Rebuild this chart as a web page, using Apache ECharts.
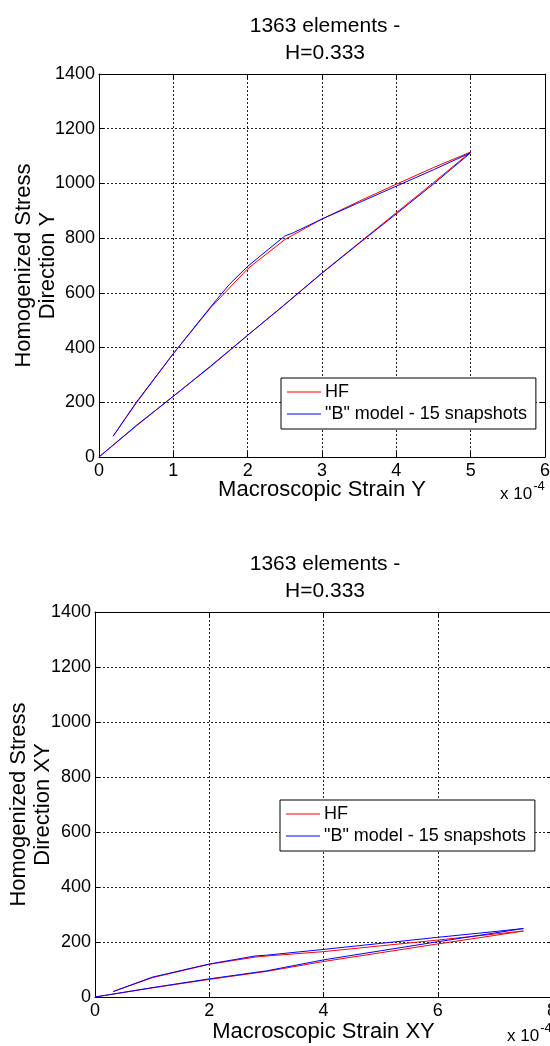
<!DOCTYPE html>
<html>
<head>
<meta charset="utf-8">
<script src="https://cdn.jsdelivr.net/npm/echarts@6/dist/echarts.min.js"></script>
<style>
  html, body { margin: 0; padding: 0; background: #fff; }
  #chart { width: 550px; height: 1046px; }
</style>
</head>
<body>
<div id="chart"></div>
<script>
// Titles and labels
const titleText = '1363 elements -\nH=0.333';
const seriesNames = ['HF', '"B" model - 15 snapshots'];
const xNames = ['Macroscopic Strain Y', 'Macroscopic Strain XY'];
const yNames = ['Homogenized Stress\nDirection Y', 'Homogenized Stress\nDirection XY'];

// Axis ranges (strain in units of 1e-4)
const xMaxY = 6, xStepY = 1;
const xMaxXY = 8, xStepXY = 2;
const yMax = 1400, yStep = 200;

// Direction Y: loading then unloading path
const strainY_HF   = [0, 0.5, 1, 1.5, 2, 2.5, 3, 3.5, 4, 4.5, 5, 4.5, 4, 3.5, 3, 2.5, 2, 1.5, 1, 0.5, 0.19];
const stressY_HF   = [0, 113, 222, 330, 445, 558, 673, 783, 893, 1003, 1115, 1058, 997, 935, 870, 795, 688, 545, 378, 200, 76];
const strainY_B    = [0, 0.5, 1, 1.5, 2, 2.5, 3, 3.5, 4, 4.5, 5, 4.5, 4, 3.5, 3, 2.6, 2.5, 2, 1.75, 1.5, 1, 0.5, 0.19];
const stressY_B    = [0, 115, 222, 332, 445, 557, 672, 781, 889, 998, 1112, 1050, 990, 930, 870, 818, 808, 697, 630, 548, 378, 197, 76];

// Direction XY: loading then unloading path
const strainXY_HF  = [0, 1, 2, 3, 4, 5, 6, 7, 7.5, 7, 6, 5, 4, 3, 2.8, 2, 1, 0.32];
const stressXY_HF  = [0, 33, 64, 93, 129, 161, 193, 224, 240, 229, 207, 186, 165, 149, 145, 119, 70, 20];
const strainXY_B   = [0, 1, 2, 3, 4, 5, 6, 7, 7.5, 7, 6, 5, 4, 3, 2.8, 2, 1, 0.32];
const stressXY_B   = [0, 34, 66, 95, 135, 168, 201, 233, 249, 238, 217, 195, 173, 152, 149, 120, 72, 20];

const zip = (xs, ys) => xs.map((x, i) => [x, ys[i]]);

const FONT = '"Liberation Sans", Arial, sans-serif';
const RED = '#ff0000', BLUE = '#0000ff';
const plain = v => String(v);

const grids = [
  { left: 99, top: 74, width: 446, height: 383 },
  { left: 95, top: 612, width: 457, height: 385 }
];

function mainX(gi, max, step, name, gap) {
  return {
    type: 'value', gridIndex: gi, min: 0, max: max, interval: step, position: 'bottom',
    name: name, nameLocation: 'middle', nameGap: gap, nameMoveOverlap: false,
    nameTextStyle: { fontFamily: FONT, fontSize: 22, color: '#000' },
    axisLine: { show: true, onZero: false, lineStyle: { color: '#000', width: 1 } },
    axisTick: { show: true, inside: true, length: 5, lineStyle: { color: '#000' } },
    axisLabel: { show: true, fontFamily: FONT, fontSize: 18, color: '#000', margin: 5, formatter: plain },
    splitLine: { show: true, lineStyle: { color: '#222', type: [2, 2], width: 1 } }
  };
}
function mirrorX(gi, max, step) {
  return {
    type: 'value', gridIndex: gi, min: 0, max: max, interval: step, position: 'top',
    axisLine: { show: true, onZero: false, lineStyle: { color: '#000', width: 1 } },
    axisTick: { show: true, inside: true, length: 5, lineStyle: { color: '#000' } },
    axisLabel: { show: false }, splitLine: { show: false }
  };
}
function mainY(gi, name, gap) {
  return {
    type: 'value', gridIndex: gi, min: 0, max: yMax, interval: yStep, position: 'left',
    name: name, nameLocation: 'middle', nameGap: gap, nameRotate: 90, nameMoveOverlap: false,
    nameTextStyle: { fontFamily: FONT, fontSize: 22, color: '#000', lineHeight: 24 },
    axisLine: { show: true, onZero: false, lineStyle: { color: '#000', width: 1 } },
    axisTick: { show: true, inside: true, length: 5, lineStyle: { color: '#000' } },
    axisLabel: { show: true, fontFamily: FONT, fontSize: 18, color: '#000', margin: 4, formatter: plain },
    splitLine: { show: true, lineStyle: { color: '#222', type: [2, 2], width: 1 } }
  };
}
function mirrorY(gi) {
  return {
    type: 'value', gridIndex: gi, min: 0, max: yMax, interval: yStep, position: 'right',
    axisLine: { show: true, onZero: false, lineStyle: { color: '#000', width: 1 } },
    axisTick: { show: true, inside: true, length: 5, lineStyle: { color: '#000' } },
    axisLabel: { show: false }, splitLine: { show: false }
  };
}
function lineSeries(name, data, color, axisIdx) {
  return {
    type: 'line', name: name, data: data, xAxisIndex: axisIdx, yAxisIndex: axisIdx,
    showSymbol: false, symbol: 'none', smooth: false, clip: true,
    lineStyle: { color: color, width: 1 }, itemStyle: { color: color },
    emphasis: { disabled: true }
  };
}
function legendBox(left, top) {
  return {
    show: true, orient: 'vertical', left: left, top: top,
    data: seriesNames, icon: 'rect', itemWidth: 34, itemHeight: 1, itemGap: 4,
    backgroundColor: '#fff', borderColor: '#000', borderWidth: 1, borderRadius: 0,
    padding: [5, 9, 6, 6],
    textStyle: { fontFamily: FONT, fontSize: 18, color: '#000', lineHeight: 18, padding: [0, 0, 0, -1] },
    selectedMode: false
  };
}
function multiplier(x, y) {
  return {
    type: 'text', left: x, top: y,
    style: {
      text: '{a|x 10}{b|-4}',
      rich: {
        a: { fontFamily: FONT, fontSize: 17, fill: '#000', verticalAlign: 'bottom' },
        b: { fontFamily: FONT, fontSize: 13, fill: '#000', padding: [0, 0, 10, 1], verticalAlign: 'bottom' }
      }
    }
  };
}

const option = {
  animation: false,
  backgroundColor: '#fff',
  title: [
    { text: titleText, left: 320, top: 8, textAlign: 'center',
      textStyle: { fontFamily: FONT, fontSize: 21, fontWeight: 'normal', color: '#000', lineHeight: 27 } },
    { text: titleText, left: 320, top: 546, textAlign: 'center',
      textStyle: { fontFamily: FONT, fontSize: 21, fontWeight: 'normal', color: '#000', lineHeight: 27 } }
  ],
  grid: grids.map(g => Object.assign({ show: false, containLabel: false, outerBoundsMode: 'none' }, g)),
  xAxis: [
    mainX(0, xMaxY, xStepY, xNames[0], 22),
    mainX(1, xMaxXY, xStepXY, xNames[1], 24),
    mirrorX(0, xMaxY, xStepY),
    mirrorX(1, xMaxXY, xStepXY)
  ],
  yAxis: [
    mainY(0, yNames[0], 39),
    mainY(1, yNames[1], 40),
    mirrorY(0),
    mirrorY(1)
  ],
  legend: [legendBox(281, 378), legendBox(280, 800)],
  series: [
    lineSeries(seriesNames[0], zip(strainY_HF, stressY_HF), RED, 0),
    lineSeries(seriesNames[1], zip(strainY_B, stressY_B), BLUE, 0),
    lineSeries(seriesNames[0], zip(strainXY_HF, stressXY_HF), RED, 1),
    lineSeries(seriesNames[1], zip(strainXY_B, stressXY_B), BLUE, 1)
  ],
  graphic: [multiplier(500, 480), multiplier(507, 1022)]
};

const chart = echarts.init(document.getElementById('chart'), null, { renderer: 'canvas' });
chart.setOption(option);
</script>
</body>
</html>
